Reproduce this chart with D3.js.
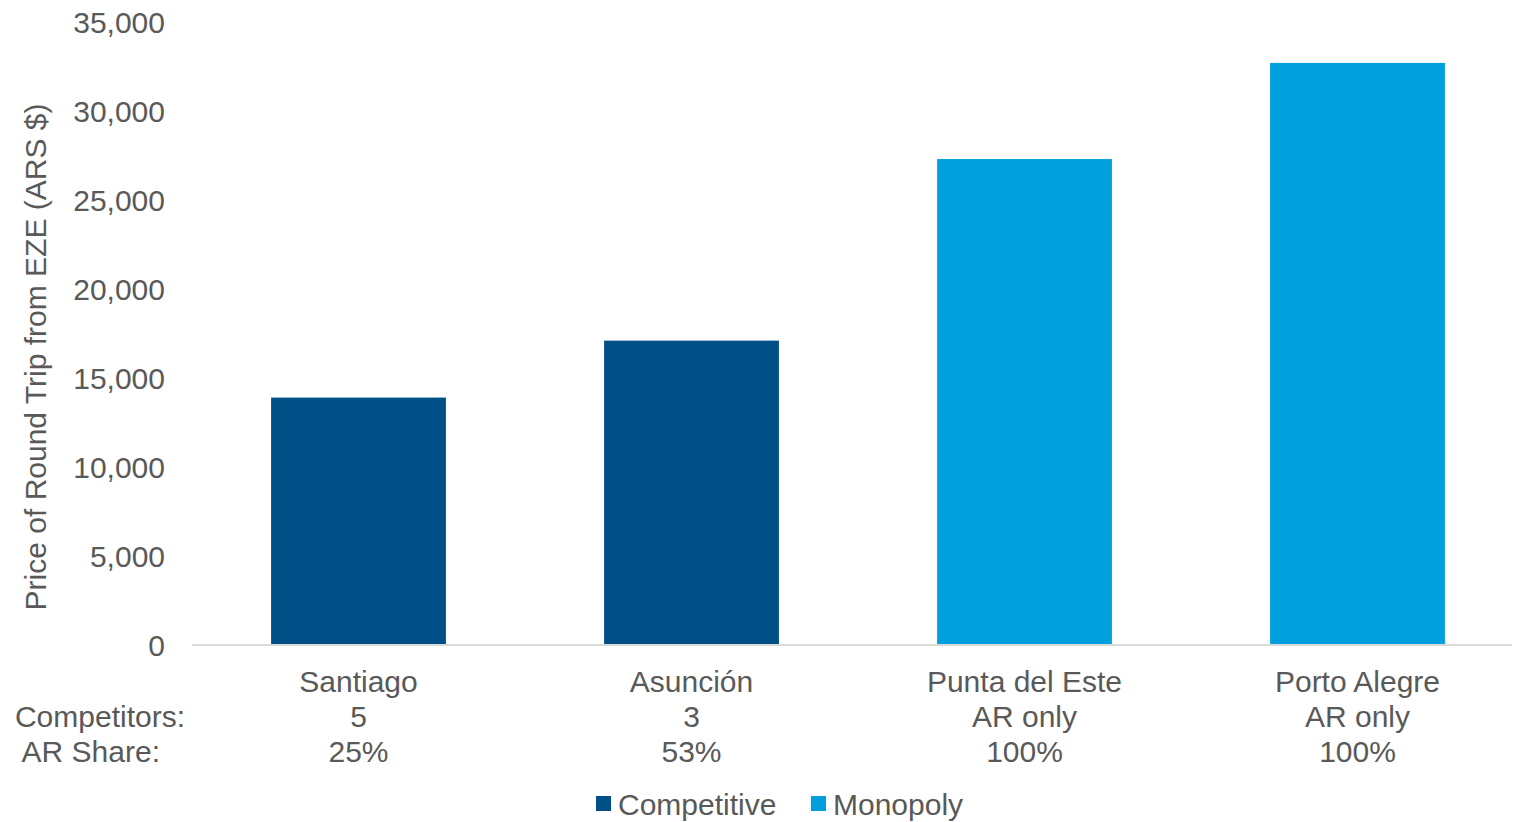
<!DOCTYPE html>
<html>
<head>
<meta charset="utf-8">
<script src="https://cdn.jsdelivr.net/npm/d3@7"></script>
<style>
  html, body { margin: 0; padding: 0; background: #fff; }
  svg text { font-family: "Liberation Sans", Arial, sans-serif; fill: #595959; }
</style>
</head>
<body>
<svg id="chart" width="1514" height="822"></svg>
<script>
// Round-trip fares from EZE by destination
const cities = ["Santiago", "Asunción", "Punta del Este", "Porto Alegre"];
const prices = [13900, 17100, 27300, 32700];
const competitors = ["5", "3", "AR only", "AR only"];
const arShare = ["25%", "53%", "100%", "100%"];
const marketType = ["Competitive", "Competitive", "Monopoly", "Monopoly"];
const legendKeys = ["Competitive", "Monopoly"];
const yTicks = [0, 5000, 10000, 15000, 20000, 25000, 30000, 35000];

const colors = { Competitive: "#005088", Monopoly: "#00A0DF" };

const svg = d3.select("#chart");

const x = d3.scaleBand().domain(cities).range([192, 1524]).paddingInner(0.475).paddingOuter(0.2375);
const y = d3.scaleLinear().domain([0, 35000]).range([645, 22]);

// bars
svg.append("g").selectAll("rect")
  .data(cities)
  .join("rect")
  .attr("x", d => x(d))
  .attr("width", x.bandwidth())
  .attr("y", (d, i) => y(prices[i]))
  .attr("height", (d, i) => y(0) - y(prices[i]))
  .attr("fill", (d, i) => colors[marketType[i]]);

// baseline
svg.append("line")
  .attr("x1", 192).attr("x2", 1512)
  .attr("y1", y(0)).attr("y2", y(0))
  .attr("stroke", "#d9d9d9").attr("stroke-width", 2);

// y axis tick labels
const yAxis = d3.axisLeft(y).tickValues(yTicks).tickSize(0).tickPadding(0)
  .tickFormat(d3.format(","));
const yg = svg.append("g").attr("transform", "translate(165,0)").call(yAxis);
yg.select(".domain").remove();
yg.selectAll("text")
  .style("font-size", "30px")
  .attr("fill", "#595959")
  .attr("dy", "0.35em");

// y axis title
svg.append("text")
  .attr("transform", "translate(46,357) rotate(-90)")
  .attr("text-anchor", "middle")
  .style("font-size", "30px")
  .text("Price of Round Trip from EZE (ARS $)");

// category labels with stacked detail rows
const rows = [cities, competitors, arShare];
const rowY = [681, 716, 751];
rows.forEach((row, r) => {
  svg.append("g").selectAll("text")
    .data(row)
    .join("text")
    .attr("x", (d, i) => x(cities[i]) + x.bandwidth() / 2)
    .attr("y", rowY[r])
    .attr("dy", "0.35em")
    .attr("text-anchor", "middle")
    .style("font-size", "30px")
    .text(d => d);
});

// row headers
svg.append("text").attr("x", 185).attr("y", rowY[1]).attr("dy", "0.35em")
  .attr("text-anchor", "end").style("font-size", "30px").text("Competitors:");
svg.append("text").attr("x", 160).attr("y", rowY[2]).attr("dy", "0.35em")
  .attr("text-anchor", "end").style("font-size", "30px").text("AR Share:");

// legend
const legendX = [596, 811];
const lg = svg.append("g").selectAll("g")
  .data(legendKeys)
  .join("g")
  .attr("transform", (d, i) => `translate(${legendX[i]},796)`);
lg.append("rect").attr("width", 15).attr("height", 15).attr("fill", d => colors[d]);
lg.append("text").attr("x", 22).attr("y", 8).attr("dy", "0.35em")
  .style("font-size", "30px").text(d => d);
</script>
</body>
</html>
